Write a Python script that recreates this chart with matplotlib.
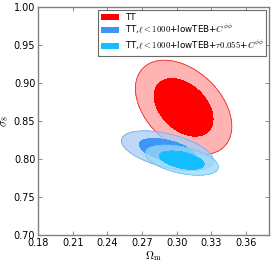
import numpy as np
import matplotlib.pyplot as plt
from matplotlib.patches import Patch

plt.rcParams['mathtext.fontset'] = 'cm'
plt.rcParams['font.family'] = 'DejaVu Sans'

# constraints: mean, sigma and correlation for each chain
labels = ['TT',
          r'TT,$\ell<1000$+lowTEB+$C^{\phi\phi}$',
          r'TT,$\ell<1000$+lowTEB+$\tau0.055$+$C^{\phi\phi}$']
om_mean = [0.306, 0.292, 0.3045]
s8_mean = [0.868, 0.811, 0.7985]
om_sig = [0.0168, 0.0160, 0.0127]
s8_sig = [0.0250, 0.0105, 0.0080]
corr = [-0.4, -0.5, -0.45]
inner_col = ['#ff0000', '#3c96f5', '#14beff']
outer_col = ['#ff9a9a', '#a8cdf6', '#9ad8fa']
edge_col = ['#e83030', '#78b0ec', '#64c8f2']

fig, ax = plt.subplots(figsize=(2.74, 2.64), dpi=100)
fig.subplots_adjust(left=0.139, right=0.982, bottom=0.11, top=0.973)

om = np.linspace(0.18, 0.38, 400)
s8 = np.linspace(0.70, 1.00, 400)
X, Y = np.meshgrid(om, s8)

for i in range(len(labels)):
    dx = (X - om_mean[i]) / om_sig[i]
    dy = (Y - s8_mean[i]) / s8_sig[i]
    r = corr[i]
    chi2 = (dx**2 - 2*r*dx*dy + dy**2) / (1 - r**2)
    ax.contourf(X, Y, chi2, levels=[2.30, 6.17], colors=[outer_col[i]], alpha=0.75, zorder=i+1)
    ax.contour(X, Y, chi2, levels=[6.17], colors=[edge_col[i]], linewidths=0.6, zorder=i+1)
    ax.contourf(X, Y, chi2, levels=[0, 2.30], colors=[inner_col[i]], zorder=i+1.5)

ax.set_xlim(0.18, 0.38)
ax.set_ylim(0.70, 1.00)
ax.set_xticks([0.18, 0.21, 0.24, 0.27, 0.30, 0.33, 0.36])
ax.set_yticks([0.70, 0.75, 0.80, 0.85, 0.90, 0.95, 1.00])
ax.tick_params(direction='in', top=True, right=True, labelsize=7, length=3,
               width=0.6, pad=2, color='#777777')
for s in ax.spines.values():
    s.set_color('#808080')
    s.set_linewidth(1.0)
ax.set_xlabel(r'$\Omega_{\rm m}$', fontsize=8, labelpad=1)
ax.set_ylabel(r'$\sigma_8$', fontsize=8, labelpad=2)

handles = [Patch(facecolor=c, edgecolor='none') for c in inner_col]
leg = ax.legend(handles, labels, loc='upper right', fontsize=6.3, fancybox=False,
                handlelength=2.0, handleheight=0.7, handletextpad=0.7,
                borderpad=0.35, labelspacing=0.15, borderaxespad=0.3)
leg.get_frame().set_edgecolor('#444444')
leg.get_frame().set_linewidth(0.8)

fig.savefig('out.png', dpi=100)
